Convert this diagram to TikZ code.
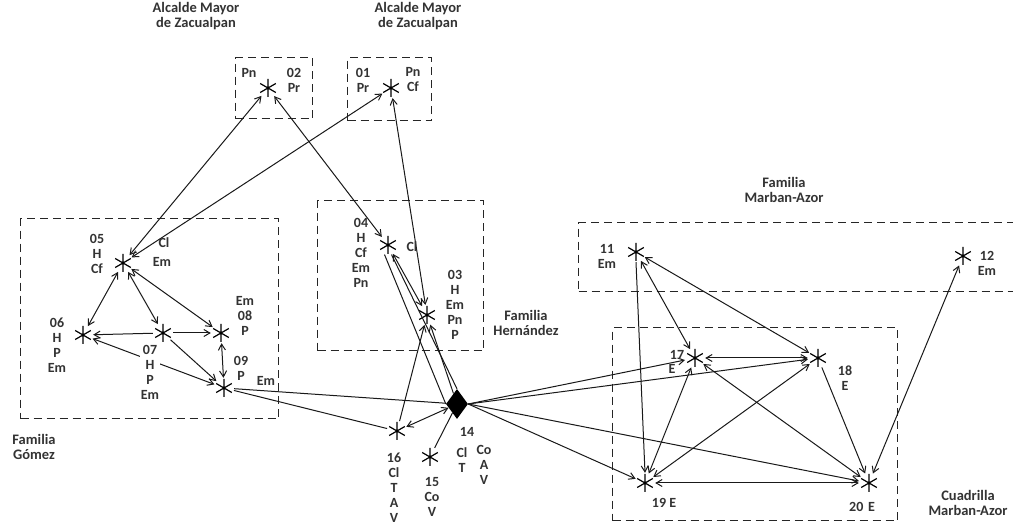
\documentclass[tikz,border=0pt]{standalone}
\usepackage{fontspec}
\setmainfont{Carlito}
\usetikzlibrary{arrows.meta,shapes.geometric}
\begin{document}
\begin{tikzpicture}[x=1pt,y=-1pt,
  actor/.style={circle,minimum size=20pt,inner sep=0pt,
    path picture={\draw[line width=1.2pt,black]
      (path picture bounding box.center) +(90:9) -- +(270:9)
      +(30:9) -- +(210:9) +(150:9) -- +(330:9);}},
  lbl/.style={font=\fontsize{14}{15}\selectfont\bfseries,text=black!80,align=center,inner sep=0pt},
  ttl/.style={font=\fontsize{14.5}{15.5}\selectfont\bfseries,text=black!80,align=center,inner sep=0pt},
  grp/.style={draw=black!85,line width=1.3pt,dash pattern=on 8pt off 5pt},
  rel/.style={line width=1pt,black!90},
  >={Straight Barb[length=6pt,width=7pt,line width=1pt]}
]
\useasboundingbox (0,0) rectangle (1013,526);
\fill[white] (0,0) rectangle (1013,526);

% group boxes
\node[grp,draw,rectangle,minimum width=77pt,minimum height=61pt,anchor=north west] (box02) at (235,57) {};
\node[grp,draw,rectangle,minimum width=84pt,minimum height=63pt,anchor=north west] (box01) at (347,57) {};
\node[grp,draw,rectangle,minimum width=258pt,minimum height=200pt,anchor=north west] (boxG) at (20,218) {};
\node[grp,draw,rectangle,minimum width=166pt,minimum height=150pt,anchor=north west] (boxH) at (317,200) {};
\node[grp,draw,rectangle,minimum width=450pt,minimum height=69pt,anchor=north west] (boxM) at (578,222) {};
\node[grp,draw,rectangle,minimum width=285pt,minimum height=193pt,anchor=north west] (boxC) at (612,327) {};

% titles
\node[ttl] (t1) at (196,16) {Alcalde Mayor\\de Zacualpan};
\node[ttl] (t2) at (418,16) {Alcalde Mayor\\de Zacualpan};
\node[ttl] (t3) at (34,447) {Familia\\Gómez};
\node[ttl] (t4) at (526,323) {Familia\\Hernández};
\node[ttl] (t5) at (784,190) {Familia\\Marban-Azor};
\node[ttl] (t6) at (968,503) {Cuadrilla\\Marban-Azor};

% actors
\node[actor] (s02) at (268,88) {};
\node[actor] (s01) at (391,88) {};
\node[actor] (s05) at (123,263) {};
\node[actor] (s06) at (83,335) {};
\node[actor] (s07) at (163,333) {};
\node[actor] (s08) at (221,333) {};
\node[actor] (s09) at (224,388) {};
\node[actor] (s04) at (388,245) {};
\node[actor] (s03) at (427,315) {};
\node[diamond,fill=black,minimum width=22pt,minimum height=30pt,inner sep=0pt] (d14) at (457,404) {};
\node[actor] (s16) at (397,431) {};
\node[actor] (s15) at (430,457) {};
\node[actor] (s11) at (636,252) {};
\node[actor] (s12) at (963,256) {};
\node[actor] (s17) at (695,358) {};
\node[actor] (s18) at (818,358) {};
\node[actor] (s19) at (645,483) {};
\node[actor] (s20) at (869,483) {};

% connectors: top
\draw[rel,<->] (s05) -- (s02);
\draw[rel,<->] (s05) -- (s01);
\draw[rel,<->] (s02) -- (s04);
\draw[rel,<->] (s01) -- (s03);
\draw[rel,<->] (s04) -- (s03);
% Gomez
\draw[rel,<->] (s05) -- (s06);
\draw[rel,<->] (s05) -- (s07);
\draw[rel,<->] (s05) -- (s08);
\draw[rel,->] (s07) -- (s06);
\draw[rel,->] (s07) -- (s08);
\draw[rel,->] (s07) -- (s09);
\draw[rel,<->] (s06) -- (s09);
\draw[rel,<->] (s08) -- (s09);
% centre
\draw[rel] (s04.250) -- (d14.west);
\draw[rel] (s04.290) -- (d14.north);
\draw[rel,->] (d14) -- (s03);
\draw[rel,->] (s16) -- (s03);
\draw[rel] (s09) -- (d14);
\draw[rel] (s09) -- (s16);
\draw[rel,<->] (s16) -- (d14);
\draw[rel] (s15) -- (d14);
% Marban-Azor
\draw[rel,->] (d14.east) -- (s17);
\draw[rel,->] (d14.east) -- (s18);
\draw[rel,->] (d14.east) -- (s19);
\draw[rel,->] (d14.east) -- (s20);
\draw[rel,<->] (s11) -- (s17);
\draw[rel,<->] (s11) -- (s18);
\draw[rel,->] (s11.south) -- (s19.north);
\draw[rel,<->] (s17) -- (s18);
\draw[rel,<->] (s17) -- (s19);
\draw[rel,<->] (s17) -- (s20);
\draw[rel,<->] (s18) -- (s19);
\draw[rel,->] (s18) -- (s20);
\draw[rel,<->] (s19) -- (s20);
\draw[rel,<->] (s12) -- (s20);

% labels
\node[lbl] (l02a) at (249,73) {Pn};
\node[lbl] (l02b) at (294,80) {02\\Pr};
\node[lbl] (l01a) at (363,80) {01\\Pr};
\node[lbl] (l01b) at (413,80) {Pn\\Cf};
\node[lbl] (l05a) at (97,254) {05\\H\\Cf};
\node[lbl] (l05b) at (164,243) {Cl};
\node[lbl] (l05c) at (162,262) {Em};
\node[lbl] (l06) at (57,345) {06\\H\\P\\Em};
\node[lbl,fill=white,inner sep=1pt] (l07) at (150,372) {07\\H\\P\\Em};
\node[lbl] (l08) at (245,316) {Em\\08\\P};
\node[lbl] (l09a) at (241,368) {09\\P};
\node[lbl] (l09b) at (266,381) {Em};
\node[lbl] (l04a) at (361,253) {04\\H\\Cf\\Em\\Pn};
\node[lbl] (l04b) at (412,247) {Cl};
\node[lbl] (l03) at (455,305) {03\\H\\Em\\Pn\\P};
\node[lbl] (l14a) at (467,432) {14};
\node[lbl] (l14b) at (462,460) {Cl\\T};
\node[lbl] (l14c) at (484,465) {Co\\A\\V};
\node[lbl] (l16) at (394,488) {16\\Cl\\T\\A\\V};
\node[lbl] (l15) at (432,497) {15\\Co\\V};
\node[lbl] (l11) at (607,256) {11\\Em};
\node[lbl] (l12) at (987,263) {12\\Em};
\node[lbl] (l17a) at (677,355) {17};
\node[lbl] (l17b) at (672,369) {E};
\node[lbl] (l18) at (845,378) {18\\E};
\node[lbl] (l19) at (664,503) {19 E};
\node[lbl] (l20) at (862,507) {20\,\,E};
\end{tikzpicture}
\end{document}
